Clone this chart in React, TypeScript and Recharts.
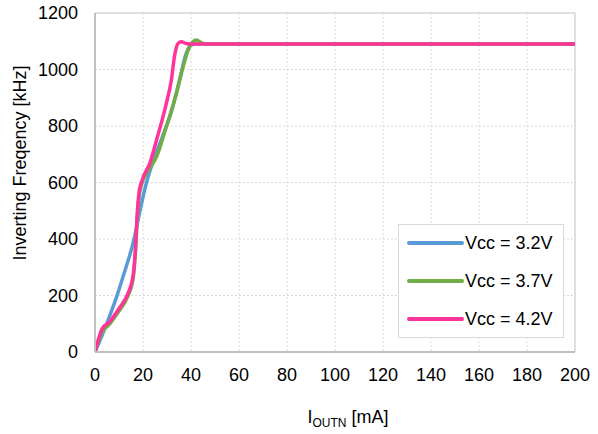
import React from "react";
import {
  LineChart,
  Line,
  XAxis,
  YAxis,
  CartesianGrid,
  Legend,
  ReferenceLine,
} from "recharts";

// I_OUTN [mA] vs inverting frequency [kHz]
const current32 = [0, 3, 6, 9, 12, 16, 19, 21, 24, 28, 32, 35, 38, 40, 42, 60, 100, 150, 200];
const freq32 = [0, 60, 125, 195, 275, 390, 510, 585, 670, 760, 855, 955, 1057, 1086, 1090, 1090, 1090, 1090, 1090];

const current37 = [0, 3, 6, 10, 13.7, 15.8, 16.9, 17.6, 18.3, 19.5, 22, 25.6, 29.7, 33.9, 36.7, 38.8, 40.8, 42.2, 44.3, 46, 60, 100, 150, 200];
const freq37 = [0, 70, 98, 145, 198, 255, 360, 470, 545, 595, 640, 690, 797, 915, 1009, 1069, 1098, 1104, 1095, 1090, 1090, 1090, 1090, 1090];

const current42 = [0, 3, 6, 10, 13.7, 15.8, 16.9, 17.6, 18.3, 19.5, 22.8, 25.6, 29.7, 31.8, 33.2, 34.6, 36, 38, 40, 60, 100, 150, 200];
const freq42 = [0, 83, 106, 154, 207, 266, 372, 490, 561, 605, 667, 749, 879, 962, 1051, 1092, 1098, 1092, 1090, 1090, 1090, 1090, 1090];

const xTicks = [0, 20, 40, 60, 80, 100, 120, 140, 160, 180, 200];
const yTicks = [0, 200, 400, 600, 800, 1000, 1200];

const seriesNames = ["Vcc = 3.2V", "Vcc = 3.7V", "Vcc = 4.2V"];
const seriesColors = ["#5B9BD5", "#70AD47", "#FF3399"];

const toPoints = (xs: number[], ys: number[]) => xs.map((x, i) => ({ x, y: ys[i] }));

const series = [
  toPoints(current32, freq32),
  toPoints(current37, freq37),
  toPoints(current42, freq42),
];

const FONT = "'Liberation Sans', Arial, sans-serif";
const FS = 18;

const LegendBox = () => (
  <div
    style={{
      position: "relative",
      width: 166,
      height: 114,
      boxSizing: "border-box",
      border: "1px solid #D9D9D9",
      background: "#fff",
      fontFamily: FONT,
      fontSize: FS,
      color: "#000",
    }}
  >
    {seriesNames.map((name, i) => (
      <div key={name} style={{ position: "absolute", left: 8, top: 18 + i * 38 - 12, height: 24, display: "flex", alignItems: "center" }}>
        <svg width={58} height={24} style={{ display: "block" }}>
          <line x1={2} y1={12} x2={55} y2={12} stroke={seriesColors[i]} strokeWidth={4} strokeLinecap="round" />
        </svg>
        <span style={{ whiteSpace: "nowrap" }}>{name}</span>
      </div>
    ))}
  </div>
);

export default function App() {
  return (
    <div style={{ position: "absolute", left: 0, top: 0, width: 598, height: 434, background: "#fff" }}>
      <LineChart width={598} height={434} margin={{ top: 13, right: 23, bottom: 22, left: 0 }}>
        <CartesianGrid stroke="#D9D9D9" strokeDasharray="2 2" />
        <ReferenceLine y={1200} stroke="#D9D9D9" strokeWidth={1.5} />
        <ReferenceLine x={200} stroke="#D9D9D9" strokeWidth={1.5} />
        <XAxis
          type="number"
          dataKey="x"
          domain={[0, 200]}
          ticks={xTicks}
          allowDataOverflow
          tickLine={false}
          tickMargin={10}
          height={60}
          axisLine={{ stroke: "#BFBFBF", strokeWidth: 2 }}
          tick={{ fontSize: FS, fill: "#000", fontFamily: FONT }}
          label={{
            content: () => (
              <text x={348} y={423} textAnchor="middle" fontSize={FS} fill="#000" fontFamily={FONT}>
                I
                <tspan fontSize={12} dy={4}>OUTN</tspan>
                <tspan dy={-4}> [mA]</tspan>
              </text>
            ),
          }}
        />
        <YAxis
          type="number"
          dataKey="y"
          domain={[0, 1200]}
          ticks={yTicks}
          width={95}
          tickLine={false}
          tickMargin={11}
          axisLine={{ stroke: "#BFBFBF", strokeWidth: 2 }}
          tick={{ fontSize: FS, fill: "#000", fontFamily: FONT }}
          label={{
            content: () => (
              <text
                x={20}
                y={163}
                transform="rotate(-90 20 163)"
                textAnchor="middle"
                dominantBaseline="central"
                fontSize={FS}
                fill="#000"
                fontFamily={FONT}
              >
                Inverting Freqency [kHz]
              </text>
            ),
          }}
        />
        {series.map((data, i) => (
          <Line
            key={seriesNames[i]}
            data={data}
            dataKey="y"
            name={seriesNames[i]}
            type="monotone"
            stroke={seriesColors[i]}
            strokeWidth={3.5}
            dot={false}
            activeDot={false}
            isAnimationActive={false}
          />
        ))}
        <Legend
          layout="vertical"
          align="center"
          verticalAlign="middle"
          content={() => <LegendBox />}
          wrapperStyle={{ left: 398, top: 224, width: 166, height: 114 }}
        />
      </LineChart>
    </div>
  );
}
